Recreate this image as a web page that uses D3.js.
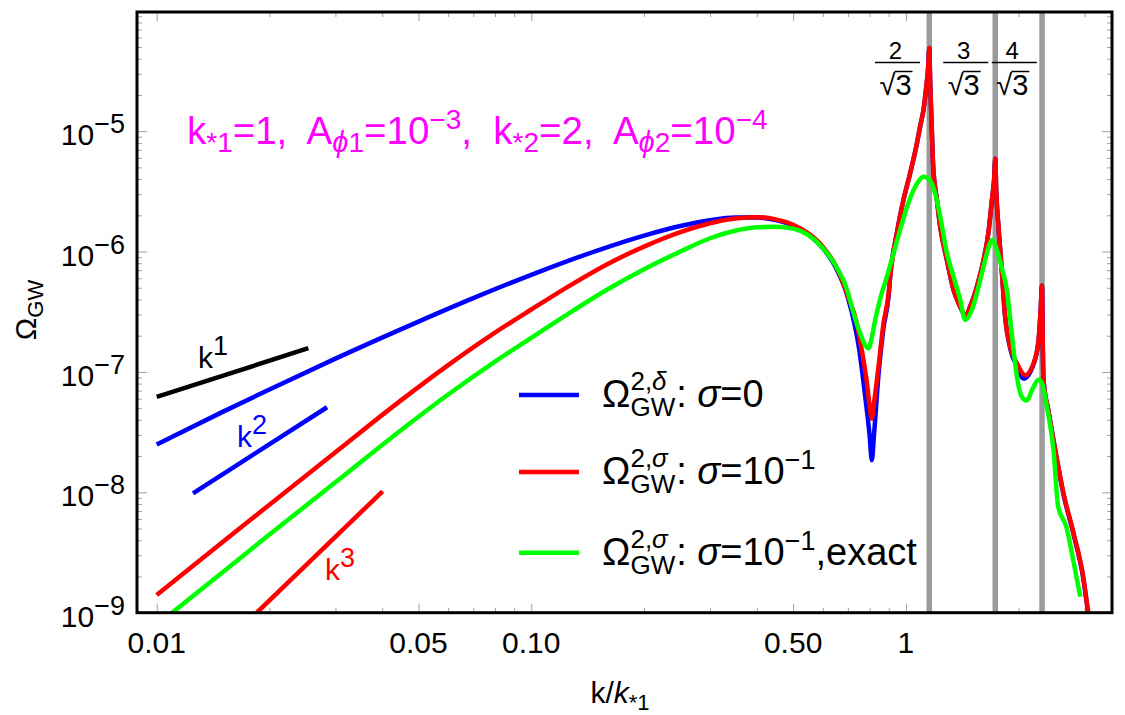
<!DOCTYPE html>
<html><head><meta charset="utf-8">
<script src="https://cdn.jsdelivr.net/npm/d3@7"></script>
<style>
body{margin:0;background:#fff}
text{font-family:"Liberation Sans",Arial,sans-serif;white-space:pre}
</style>
</head><body>
<svg id="chart" width="1125" height="715"></svg>
<script>
// ---------------- data ----------------
const kBlue = [0.01,0.015,0.02,0.03,0.05,0.07,0.1,0.15,0.2,0.25,0.3,0.35,0.4,0.45,0.5,0.55,0.6,0.65,0.7,0.75,0.78,0.80,0.811,0.822,0.845,0.871,0.9,0.907,0.946,0.985,1.027,1.07,1.092,1.114,1.133,1.147,1.1547,1.161,1.172,1.183,1.21,1.235,1.287,1.34,1.39,1.44,1.5,1.547,1.612,1.66,1.697,1.72,1.732,1.742,1.767,1.8,1.84,1.9,1.979,2.06,2.192,2.261,2.29,2.309,2.318,2.33,2.4,2.478,2.635,2.802,2.97,3.07,3.2];
const omegaBlue = [2.5e-8,4.66e-8,7.15e-8,1.29e-7,2.62e-7,4.10e-7,6.41e-7,1.02e-6,1.358e-6,1.631e-6,1.822e-6,1.92e-6,1.92e-6,1.823e-6,1.639e-6,1.381e-6,1.07e-6,7.36e-7,4.16e-7,1.56e-7,6.0e-8,3.0e-8,1.85e-8,3.0e-8,9.5e-8,2.3e-7,4.4e-7,6.0e-7,1.42e-6,2.68e-6,4.5e-6,7.9e-6,1.1e-5,1.5e-5,2.3e-5,3.4e-5,4.9e-5,2.6e-5,1.1e-5,5.0e-6,2.7e-6,1.6e-6,8.5e-7,4.8e-7,3.6e-7,2.97e-7,3.8e-7,5.1e-7,8.5e-7,1.42e-6,2.68e-6,4.0e-6,5.9e-6,3.3e-6,1.6e-6,7.5e-7,2.9e-7,1.55e-7,1.12e-7,8.8e-8,1.16e-7,1.84e-7,3.3e-7,5.2e-7,2.0e-7,8.6e-8,4.8e-8,2.7e-8,9.6e-9,4.5e-9,2.0e-9,9.8e-10,5.4e-10];

const kRed = [0.01,0.015,0.02,0.03,0.0447,0.06,0.08,0.1,0.13,0.16,0.2,0.25,0.3,0.35,0.4,0.45,0.5,0.55,0.6,0.65,0.7,0.74,0.763,0.787,0.80,0.811,0.825,0.845,0.871,0.9,0.907,0.946,0.985,1.027,1.07,1.092,1.114,1.133,1.147,1.1547,1.161,1.172,1.183,1.21,1.235,1.287,1.34,1.39,1.44,1.5,1.547,1.612,1.66,1.697,1.72,1.732,1.742,1.767,1.8,1.84,1.9,1.979,2.083,2.192,2.261,2.29,2.309,2.318,2.33,2.4,2.478,2.635,2.802,2.97,3.07,3.2];
const omegaRed = [1.4e-9,3.86e-9,7.9e-9,2.15e-8,5.75e-8,1.14e-7,2.12e-7,3.3e-7,5.47e-7,7.89e-7,1.10e-6,1.45e-6,1.72e-6,1.88e-6,1.93e-6,1.85e-6,1.67e-6,1.41e-6,1.1e-6,7.6e-7,4.3e-7,2.5e-7,1.5e-7,8.1e-8,5.3e-8,4.1e-8,6.0e-8,1.1e-7,2.5e-7,4.6e-7,6.0e-7,1.42e-6,2.68e-6,4.5e-6,7.9e-6,1.1e-5,1.5e-5,2.3e-5,3.4e-5,4.9e-5,2.6e-5,1.1e-5,5.0e-6,2.7e-6,1.6e-6,8.5e-7,4.8e-7,3.6e-7,2.97e-7,3.8e-7,5.1e-7,8.5e-7,1.42e-6,2.68e-6,4.0e-6,5.9e-6,3.3e-6,1.6e-6,7.5e-7,2.9e-7,1.6e-7,1.18e-7,9.4e-8,1.18e-7,1.84e-7,3.3e-7,5.2e-7,2.0e-7,8.6e-8,4.8e-8,2.7e-8,9.8e-9,4.6e-9,2.05e-9,1.0e-9,5.5e-10];

const kGreen = [0.01,0.015,0.02,0.03,0.0447,0.06,0.08,0.1,0.13,0.16,0.2,0.25,0.3,0.35,0.4,0.45,0.5,0.55,0.6,0.65,0.7,0.71,0.725,0.755,0.78,0.795,0.81,0.828,0.853,0.89,0.93,0.965,1.005,1.048,1.085,1.114,1.14,1.161,1.197,1.235,1.287,1.34,1.396,1.44,1.5,1.547,1.612,1.665,1.697,1.75,1.8,1.86,1.917,1.979,2.04,2.1,2.19,2.26,2.31,2.38,2.478,2.55,2.68,2.8,2.92];
const omegaGreen = [7.9e-10,2.17e-9,4.46e-9,1.21e-8,3.25e-8,6.5e-8,1.22e-7,1.92e-7,3.26e-7,4.86e-7,7.13e-7,1.0e-6,1.29e-6,1.49e-6,1.59e-6,1.61e-6,1.55e-6,1.37e-6,1.07e-6,7.6e-7,4.6e-7,3.9e-7,3.07e-7,2.1e-7,1.65e-7,1.57e-7,1.9e-7,2.7e-7,4.0e-7,6.2e-7,1.0e-6,1.51e-6,2.3e-6,3.24e-6,3.9e-6,4.18e-6,4.1e-6,3.9e-6,3.04e-6,1.95e-6,9.7e-7,6.2e-7,4.0e-7,2.7e-7,3.27e-7,4.5e-7,7.5e-7,1.1e-6,1.25e-6,1.03e-6,7.5e-7,4.8e-7,2.1e-7,9.1e-8,6.2e-8,5.8e-8,7.5e-8,8.6e-8,8.0e-8,5.1e-8,2.25e-8,7.6e-9,5.2e-9,2.7e-9,1.36e-9];

// power-law guide segments: [k, Omega] end points
const guideK1 = [[0.01,6.2e-8],[0.0254,1.575e-7]];
const guideK2 = [[0.0125,9.8e-9],[0.0285,5.09e-8]];
const guideK3 = [[0.0185,1.0e-9],[0.0401,1.02e-8]];

// resonance positions n/sqrt(3)
const resonanceN = [2,3,4];

const xMajorTicks = [0.01,0.05,0.1,0.5,1];
const xMajorLabels = ["0.01","0.05","0.10","0.50","1"];
const xMinorTicks = [0.02,0.03,0.04,0.06,0.07,0.08,0.09,0.2,0.3,0.4,0.6,0.7,0.8,0.9,2,3];
const yMajorExps = [-9,-8,-7,-6,-5];
const yMajorLabels = ["\u22129","\u22128","\u22127","\u22126","\u22125"];

// ---------------- layout ----------------
const L=137, R=1112, T=12, B=612.7;
const svg = d3.select("#chart");
const x = d3.scaleLog().domain([0.00886,3.55]).range([L,R]);
const y = d3.scaleLog().domain([1e-9,Math.pow(10,-4.01)]).range([B,T]);

svg.append("defs").append("clipPath").attr("id","clip")
  .append("rect").attr("x",L).attr("y",T).attr("width",R-L).attr("height",B-T);

// ticks via d3 axes (inside the frame)
const yMinor = [];
for (let e=-9;e<=-5;e++) for (let m=2;m<=9;m++) yMinor.push(m*Math.pow(10,e));
const yMajor = yMajorExps.map(e=>Math.pow(10,e));

function tickAxis(axis, tr){
  const g = svg.append("g").attr("transform",tr).call(axis);
  g.select(".domain").remove();
  g.selectAll(".tick line").attr("stroke","#a0a0a0").attr("stroke-width",1);
  g.selectAll(".tick text").remove();
  return g;
}
tickAxis(d3.axisBottom(x).tickValues(xMajorTicks).tickSize(-9),`translate(0,${B})`);
tickAxis(d3.axisBottom(x).tickValues(xMinorTicks).tickSize(-5),`translate(0,${B})`);
tickAxis(d3.axisTop(x).tickValues(xMajorTicks).tickSize(-9),`translate(0,${T})`);
tickAxis(d3.axisTop(x).tickValues(xMinorTicks).tickSize(-5),`translate(0,${T})`);
tickAxis(d3.axisLeft(y).tickValues(yMajor).tickSize(-10),`translate(${L},0)`);
tickAxis(d3.axisLeft(y).tickValues(yMinor).tickSize(-5),`translate(${L},0)`);
tickAxis(d3.axisRight(y).tickValues(yMajor).tickSize(-10),`translate(${R},0)`);
tickAxis(d3.axisRight(y).tickValues(yMinor).tickSize(-5),`translate(${R},0)`);

// resonance lines
svg.append("g").selectAll("line").data(resonanceN).join("line")
  .attr("x1",n=>x(n/Math.sqrt(3))).attr("x2",n=>x(n/Math.sqrt(3)))
  .attr("y1",T).attr("y2",B).attr("stroke","#9b9b9b").attr("stroke-width",5.5);

// curves
const line = d3.line().x(d=>x(d[0])).y(d=>y(d[1])).curve(d3.curveMonotoneX);
const plot = svg.append("g").attr("clip-path","url(#clip)");
const series = [
  {k:kBlue, o:omegaBlue, c:"#0000ff"},
  {k:kRed, o:omegaRed, c:"#ff0000"},
  {k:kGreen, o:omegaGreen, c:"#00ff00"}
];
series.forEach(s=>{
  plot.append("path").datum(s.k.map((k,i)=>[k,s.o[i]]))
    .attr("d",line).attr("fill","none").attr("stroke",s.c)
    .attr("stroke-width",4.5).attr("stroke-linejoin","round");
});
const straight = d3.line().x(d=>x(d[0])).y(d=>y(d[1]));
[[guideK1,"#000000"],[guideK2,"#0000ff"],[guideK3,"#ff0000"]].forEach(([d,c])=>{
  plot.append("path").datum(d).attr("d",straight).attr("stroke",c).attr("stroke-width",4.5).attr("fill","none");
});

// frame
svg.append("rect").attr("x",L).attr("y",T).attr("width",R-L).attr("height",B-T)
  .attr("fill","none").attr("stroke","#000").attr("stroke-width",3);

// rich text helper: segs {t, s (size), o (baseline offset), i (italic), x (absolute x)}
function rich(parent, px, py, segs, base, color, anchor){
  const t = parent.append("text").attr("x",px).attr("y",py).attr("fill",color||"#000")
    .attr("font-size",base).attr("text-anchor",anchor||"start");
  let cur=0;
  segs.forEach(s=>{
    const off = s.o||0;
    const ts = t.append("tspan").attr("dy",off-cur).attr("font-size",s.s||base)
      .attr("font-style",s.i?"italic":"normal").text(s.t);
    if (s.x!==undefined) ts.attr("x",s.x);
    cur=off;
  });
  return t;
}

// x tick labels
xMajorTicks.forEach((v,i)=>{
  svg.append("text").attr("x",x(v)).attr("y",653).attr("text-anchor","middle")
    .attr("font-size",30).text(xMajorLabels[i]);
});
// y tick labels
yMajorExps.forEach((e,i)=>{
  rich(svg,125,y(Math.pow(10,e))+14,[{t:"10"},{t:yMajorLabels[i],s:27,o:-12}],30,"#000","end");
});

// axis titles
rich(svg,620,703,[{t:"k/"},{t:"k",i:true},{t:"*1",s:22,o:7}],30,"#000","middle");
const yl = svg.append("g").attr("transform","translate(36,310) rotate(-90)");
rich(yl,0,0,[{t:"\u03a9"},{t:"GW",s:22,o:7}],30,"#000","middle");

// parameter annotation
rich(svg,187,144,[
  {t:"k"},{t:"*1",s:28,o:8},{t:"=1,  A"},{t:"\u03d5",s:29,o:8,i:true},{t:"1",s:28,o:8},
  {t:"=10"},{t:"\u22123",s:28,o:-15},{t:",  k"},{t:"*2",s:28,o:8},{t:"=2,  A"},
  {t:"\u03d5",s:29,o:8,i:true},{t:"2",s:28,o:8},{t:"=10"},{t:"\u22124",s:28,o:-15}
],38.5,"#ff00ff");

// power-law labels
rich(svg,198,368,[{t:"k"},{t:"1",s:27,o:-13}],30,"#000");
rich(svg,237,447,[{t:"k"},{t:"2",s:27,o:-13}],30,"#0000ff");
rich(svg,325,580,[{t:"k"},{t:"3",s:27,o:-13}],30,"#ff0000");

// fractions n/sqrt(3)
const fracCenters = [897.5,965.7,1014.3];
resonanceN.forEach((n,i)=>{
  const cx = fracCenters[i];
  svg.append("text").attr("x",cx-2).attr("y",59).attr("text-anchor","middle").attr("font-size",24).text(n);
  svg.append("line").attr("x1",cx-22.5).attr("x2",cx+22.5).attr("y1",62.5).attr("y2",62.5)
    .attr("stroke","#000").attr("stroke-width",1.5);
  const den = svg.append("text").attr("x",cx-2).attr("y",95).attr("text-anchor","middle").attr("font-size",29).text("\u221a3");
  const w = den.node().getComputedTextLength();
  const x0 = cx-2-w/2;
  svg.append("line").attr("x1",x0+w*0.47).attr("x2",x0+w+1).attr("y1",71.5).attr("y2",71.5)
    .attr("stroke","#000").attr("stroke-width",1.5);
});

// legend (one text element per entry, stacked super/subscript via tspans)
const legend = [
  {c:"#0000ff", sup:[{t:"2,"},{t:"\u03b4",i:true}], rest:[{t:": "},{t:"\u03c3",i:true},{t:"=0"}]},
  {c:"#ff0000", sup:[{t:"2,"},{t:"\u03c3",i:true}], rest:[{t:": "},{t:"\u03c3",i:true},{t:"=10"},{t:"\u22121",s:27,o:-15}]},
  {c:"#00ff00", sup:[{t:"2,"},{t:"\u03c3",i:true}], rest:[{t:": "},{t:"\u03c3",i:true},{t:"=10"},{t:"\u22121",s:27,o:-15},{t:",exact"}]}
];
const legY = [395,472,552.7];
const legBase = 38, legSmall = 26, legX = 602;
legend.forEach((d,i)=>{
  const ly = legY[i];
  svg.append("line").attr("x1",519).attr("x2",579).attr("y1",ly).attr("y2",ly)
    .attr("stroke",d.c).attr("stroke-width",4.5);
  const bl = ly+12;
  const probe = svg.append("text").attr("font-size",legBase).text("\u03a9");
  const wOm = probe.node().getComputedTextLength();
  probe.attr("font-size",legSmall).text(d.sup.map(s=>s.t).join(""));
  const wSup = probe.node().getComputedTextLength();
  probe.text("GW");
  const wSub = probe.node().getComputedTextLength();
  probe.remove();
  const x1 = legX + wOm, x2 = x1 + Math.max(wSup,wSub) + 1;
  const segs = [{t:"\u03a9"}];
  d.sup.forEach((s,j)=>segs.push({t:s.t,i:s.i,s:legSmall,o:-17,x:j===0?x1:undefined}));
  segs.push({t:"GW",s:legSmall,o:9,x:x1});
  d.rest.forEach((s,j)=>segs.push({t:s.t,i:s.i,s:s.s,o:s.o||0,x:j===0?x2:undefined}));
  rich(svg,legX,bl,segs,legBase,"#000");
});
</script>
</body></html>
